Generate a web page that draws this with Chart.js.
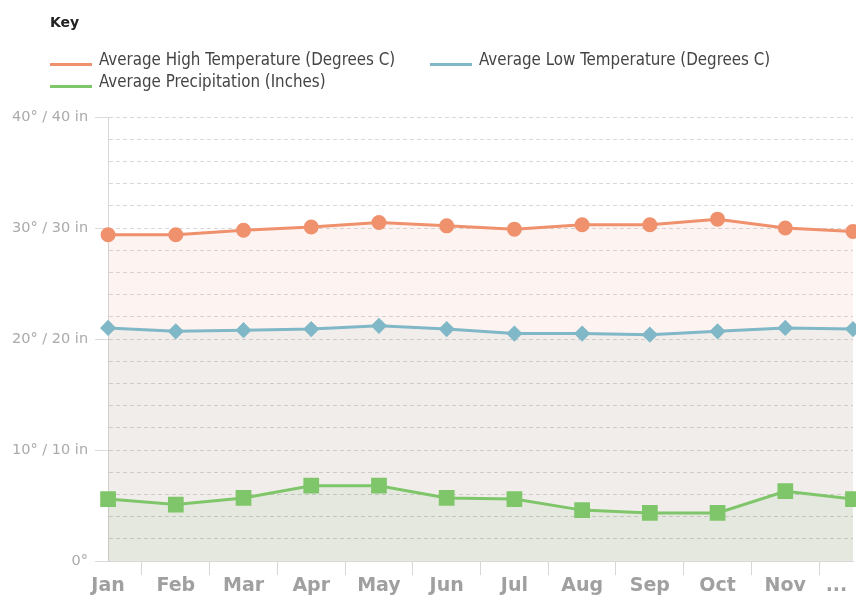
<!DOCTYPE html>
<html>
<head>
<meta charset="utf-8">
<script src="https://cdn.jsdelivr.net/npm/chart.js@4/dist/chart.umd.min.js"></script>
<style>
  body { margin: 0; background: #fff; }
  #wrap { position: relative; width: 856px; height: 596px; }
  #key { position: absolute; left: 50px; top: 14px; font-family: "DejaVu Sans", Verdana, sans-serif; color: #222; }
  #key .title { font-weight: bold; font-size: 14px; margin-bottom: 20px; }
  #key .items { display: grid; grid-template-columns: 380px 380px; row-gap: 4px; font-family: "DejaVu Sans Condensed", "DejaVu Sans", sans-serif; font-size: 16.8px; color: #444; }
  #key .item { display: flex; align-items: center; height: 18px; }
  #key .swatch { width: 42px; height: 3px; margin-right: 7px; position: relative; top: 5px; }
</style>
</head>
<body>
<div id="wrap">
  <div id="key"><div class="title">Key</div><div class="items" id="items"></div></div>
  <canvas id="myChart" width="856" height="596"></canvas>
</div>
<script>
const months = ['Jan', 'Feb', 'Mar', 'Apr', 'May', 'Jun', 'Jul', 'Aug', 'Sep', 'Oct', 'Nov', '...'];
const highTemp = [29.4, 29.4, 29.8, 30.1, 30.5, 30.2, 29.9, 30.3, 30.3, 30.8, 30.0, 29.7];
const lowTemp = [21.0, 20.7, 20.8, 20.9, 21.2, 20.9, 20.5, 20.5, 20.4, 20.7, 21.0, 20.9];
const precip = [5.6, 5.1, 5.7, 6.8, 6.8, 5.7, 5.6, 4.6, 4.35, 4.35, 6.3, 5.6];
const yTickLabels = {0: '0°', 10: '10° / 10 in', 20: '20° / 20 in', 30: '30° / 30 in', 40: '40° / 40 in'};

const grey = '#d8d8d8';

let ctx = document.getElementById('myChart').getContext('2d');
let myChart = new Chart(ctx, {
    type: 'line',
    data: {
        labels: months,
        datasets: [{
            label: 'Average High Temperature (Degrees C)',
            data: highTemp,
            borderColor: '#f0916d',
            backgroundColor: 'rgba(235, 135, 105, 0.1)',
            pointBackgroundColor: '#f0916d',
            pointStyle: 'circle',
            pointRadius: 6,
            fill: '+1',
            borderWidth: 3,
            tension: 0
            },{
            label: 'Average Low Temperature (Degrees C)',
            data: lowTemp,
            borderColor: '#80b8c8',
            backgroundColor: 'rgba(162, 135, 115, 0.15)',
            pointBackgroundColor: '#80b8c8',
            pointStyle: 'rectRot',
            pointRadius: 6,
            fill: '+1',
            borderWidth: 3,
            tension: 0
            },{
            label: 'Average Precipitation (Inches)',
            data: precip,
            borderColor: '#7fc66a',
            backgroundColor: 'rgba(82, 102, 42, 0.15)',
            pointBackgroundColor: '#7fc66a',
            pointStyle: 'rect',
            pointRadius: 9,
            fill: 'origin',
            borderWidth: 3,
            tension: 0
            }]
    },
    options: {
        responsive: false,
        animation: false,
        layout: { autoPadding: false, padding: { top: 117, left: 5, right: 3, bottom: 0 } },
        plugins: {
            legend: { display: false },
            tooltip: { enabled: false },
            filler: { drawTime: 'beforeDatasetsDraw' }
        },
        elements: { point: { borderWidth: 0 } },
        scales: {
            x: {
                offset: false,
                grid: { offset: true, drawOnChartArea: false, color: grey, tickLength: 14 },
                border: { color: grey },
                ticks: {
                    color: '#a0a0a0',
                    padding: -1,
                    maxRotation: 0,
                    autoSkip: false,
                    font: { family: '"DejaVu Sans", Verdana, sans-serif', size: 19, weight: 'bold' },
                    callback: function (v, i) { return i === months.length - 1 ? months[i] + '     ' : months[i]; }
                },
                afterFit: (scale) => { scale.paddingRight = 0; }
            },
            y: {
                min: 0,
                max: 40,
                grid: {
                    color: grey,
                    tickLength: 13,
                    tickColor: (c) => (c.tick && c.tick.value % 10 === 0) ? grey : 'rgba(0,0,0,0)',
                    tickBorderDash: [1, 0]
                },
                border: { color: grey, dash: [4, 3] },
                ticks: {
                    stepSize: 2,
                    color: '#aaaaaa',
                    padding: 7,
                    font: { family: '"DejaVu Sans", Verdana, sans-serif', size: 14.5 },
                    callback: (v) => yTickLabels[v] || ''
                }
            }
        }
    }
});

const items = document.getElementById('items');
myChart.data.datasets.forEach((ds) => {
    const el = document.createElement('div');
    el.className = 'item';
    el.innerHTML = '<span class="swatch" style="background:' + ds.borderColor + '"></span>' + ds.label;
    items.appendChild(el);
});
</script>
</body>
</html>
